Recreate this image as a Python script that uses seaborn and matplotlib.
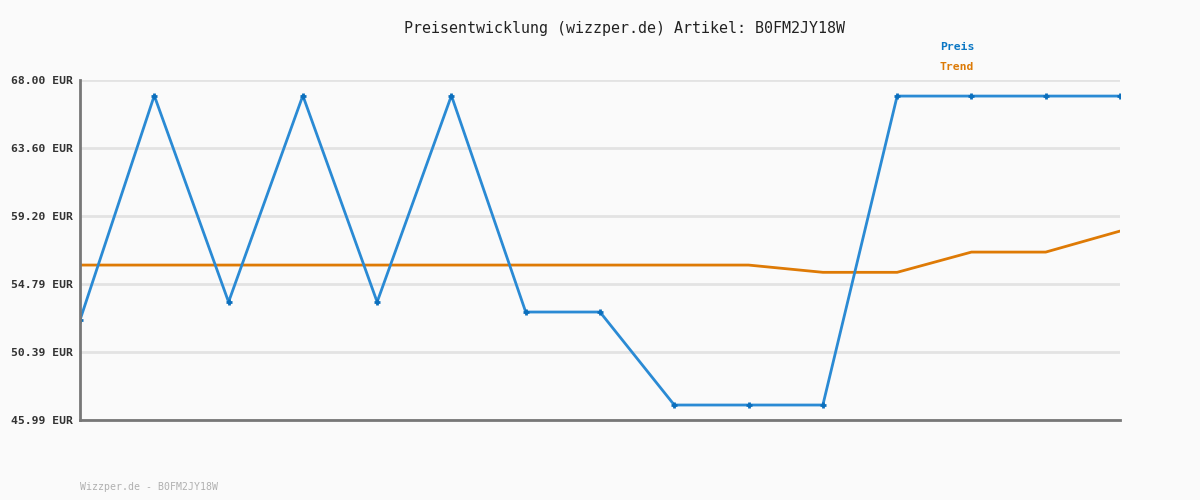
import pandas as pd
import seaborn as sns
import matplotlib.pyplot as plt

# Preisverlauf, 15 Messpunkte
punkte = list(range(15))
preis = [52.46, 66.99, 53.63, 66.99, 53.63, 66.99, 52.98, 52.98,
         46.96, 46.96, 46.96, 66.96, 66.96, 66.96, 66.96]
trend = [56.02, 56.02, 56.02, 56.02, 56.02, 56.02, 56.02, 56.02,
         56.02, 56.02, 55.55, 55.55, 56.86, 56.86, 58.22]
yticks = [45.99, 50.39, 54.79, 59.20, 63.60, 68.00]

df = pd.DataFrame({'punkt': punkte, 'Preis': preis, 'Trend': trend})

sns.set_style('white')
plt.rcParams['font.family'] = ['DejaVu Sans Mono']

fig = plt.figure(figsize=(12, 5), dpi=100, facecolor='#fafafa')
ax = fig.add_axes([80 / 1200, 80 / 500, 1040 / 1200, 340 / 500])
ax.set_facecolor('#fafafa')

sns.lineplot(data=df, x='punkt', y='Trend', ax=ax, color='#de7a05', linewidth=2)
sns.lineplot(data=df, x='punkt', y='Preis', ax=ax, color='#2a8ad4', linewidth=2,
             marker='+', markersize=5, markeredgewidth=2, markeredgecolor='#0b6fbd')

ax.set_xlim(0, 14)
ax.set_ylim(45.99, 68.00)
ax.set_yticks(yticks)
ax.set_yticklabels([f'{v:.2f} EUR' for v in yticks], fontsize=8.2, fontweight='bold', color='#333333')
ax.set_xticks([])
ax.set_xlabel('')
ax.set_ylabel('')
ax.tick_params(axis='y', length=0, pad=5)
ax.grid(axis='y', color='#e3e3e3', linewidth=2)
ax.set_axisbelow(True)
for s in ['top', 'right']:
    ax.spines[s].set_visible(False)
for s in ['left', 'bottom']:
    ax.spines[s].set_color('#777777')
    ax.spines[s].set_linewidth(2)

fig.text(624 / 1200, 1 - 28 / 500, 'Preisentwicklung (wizzper.de) Artikel: B0FM2JY18W',
         ha='center', va='center', fontsize=10.8, color='#222222')
fig.text(940 / 1200, 1 - 47 / 500, 'Preis', ha='left', va='center',
         fontsize=8.2, fontweight='bold', color='#0b77c4')
fig.text(940 / 1200, 1 - 67 / 500, 'Trend', ha='left', va='center',
         fontsize=8.2, fontweight='bold', color='#dc7a06')
fig.text(80 / 1200, 1 - 487 / 500, 'Wizzper.de - B0FM2JY18W', ha='left', va='center',
         fontsize=7.1, color='#b0b0b0')

fig.savefig('out.png', dpi=100, facecolor='#fafafa')
